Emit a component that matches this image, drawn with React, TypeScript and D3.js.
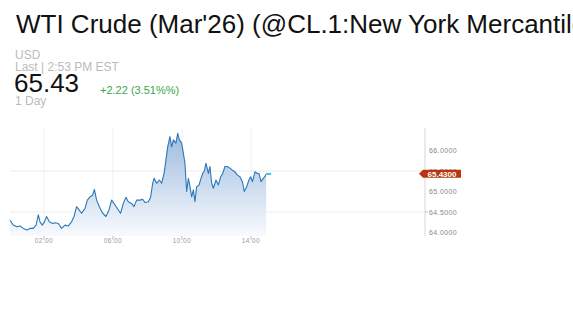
import React from "react";
import * as d3 from "d3";

const title = "WTI Crude (Mar'26) (@CL.1:New York Mercantile Exchange)";
const currency = "USD";
const lastLabel = "Last | 2:53 PM EST";
const lastPrice = "65.43";
const change = "+2.22 (3.51%%)";
const period = "1 Day";

// time in hours (EST, session day), price
const times = [0.03,0.22,0.42,0.61,0.80,1.00,1.19,1.38,1.54,1.67,1.77,1.90,2.02,2.15,2.31,2.50,2.64,2.83,3.02,3.22,3.41,3.60,3.74,3.89,4.03,4.18,4.38,4.51,4.67,4.82,4.92,5.05,5.21,5.40,5.59,5.77,5.92,6.12,6.31,6.44,6.60,6.75,6.89,7.08,7.22,7.37,7.57,7.72,7.86,8.05,8.18,8.30,8.38,8.53,8.69,8.82,8.96,9.07,9.17,9.30,9.40,9.50,9.65,9.75,9.85,9.98,10.08,10.17,10.27,10.37,10.46,10.56,10.66,10.75,10.85,10.99,11.10,11.20,11.31,11.39,11.53,11.62,11.72,11.82,11.97,12.11,12.24,12.36,12.49,12.63,12.78,12.92,13.07,13.21,13.36,13.50,13.61,13.75,13.88,13.98,14.08,14.23,14.37,14.46,14.58,14.71,14.80,14.88];
const prices = [64.30,64.18,64.14,64.16,64.10,64.06,64.10,64.10,64.18,64.43,64.26,64.18,64.26,64.39,64.26,64.22,64.24,64.22,64.10,64.18,64.16,64.26,64.39,64.63,64.55,64.47,64.59,64.79,64.87,64.91,65.05,64.79,64.63,64.47,64.39,64.55,64.79,64.67,64.55,64.47,64.71,64.86,64.75,64.71,64.63,64.79,64.79,64.81,64.73,64.75,64.86,65.20,65.32,65.20,65.28,65.20,65.44,65.77,66.09,66.34,66.09,66.26,66.18,66.42,66.26,66.18,65.93,65.69,65.00,65.32,65.12,64.87,65.04,64.75,65.12,65.16,65.32,65.44,65.52,65.69,65.44,65.61,65.20,65.08,65.28,65.16,65.36,65.44,65.61,65.61,65.57,65.52,65.48,65.40,65.36,65.24,65.00,65.12,65.28,65.36,65.24,65.48,65.44,65.44,65.24,65.32,65.36,65.43];

const xTickValues = [2, 6, 10, 14];
const xTickLabels = ["02:00", "06:00", "10:00", "14:00"];
const yTickValues = [64, 64.5, 65, 65.5, 66];
const yGridValues = [64.5, 65.5];
const currentValue = 65.43;

export default function App() {
  const W = 573, H = 323;
  const x = d3.scaleLinear().domain([0, 24]).range([9.5, 423.5]);
  const y = d3.scaleLinear().domain([64, 66]).range([232.5, 150.5]);
  const top = 128, bottom = 236, axisX = 425;
  const data = times.map((t, i) => ({ t, v: prices[i] }));
  const line = d3.line<any>().x(d => x(d.t)).y(d => y(d.v));
  const area = d3.area<any>().x(d => x(d.t)).y0(bottom).y1(d => y(d.v));
  const last = data[data.length - 1];
  const cy = y(currentValue);
  const font = "'Liberation Sans', Arial, sans-serif";

  return (
    <svg width={W} height={H} style={{ position: "absolute", left: 0, top: 0 }} fontFamily={font}>
      <defs>
        <linearGradient id="ag" gradientUnits="userSpaceOnUse" x1={0} y1={y(66.45)} x2={0} y2={bottom}>
          <stop offset="0%" stopColor="#9dbbdf" />
          <stop offset="100%" stopColor="#f8fafd" />
        </linearGradient>
      </defs>
      <text x={16} y={33} fontSize={26} fill="#111">{title}</text>
      <text x={15} y={59} fontSize={12} fill="#bbbbbb">{currency}</text>
      <text x={15} y={71} fontSize={12} fill="#bbbbbb">{lastLabel}</text>
      <text x={14} y={92} fontSize={26} fill="#111">{lastPrice}</text>
      <text x={100} y={94} fontSize={11} fill="#3aa845">{change}</text>
      <text x={15} y={105} fontSize={12} fill="#bbbbbb">{period}</text>

      {xTickValues.map(v => (
        <line key={"vg" + v} x1={x(v)} x2={x(v)} y1={top} y2={bottom} stroke="#f1f1f1" />
      ))}
      {yGridValues.map(v => (
        <line key={"hg" + v} x1={10} x2={axisX} y1={y(v)} y2={y(v)} stroke="#ececec" />
      ))}
      <path d={area(data) || ""} fill="url(#ag)" />
      <path d={line(data) || ""} fill="none" stroke="#2b78b8" strokeWidth={1.1} strokeLinejoin="round" />
      <line x1={x(last.t)} x2={x(last.t) + 5} y1={y(last.v)} y2={y(last.v)} stroke="#3ec0f2" strokeWidth={2} />

      <line x1={axisX} x2={axisX} y1={top} y2={bottom} stroke="#d6d6d6" />
      {yGridValues.map(v => (
        <line key={"yt" + v} x1={axisX} x2={axisX + 3} y1={y(v)} y2={y(v)} stroke="#bbb" />
      ))}
      {yTickValues.map(v => (
        <text key={"yl" + v} x={429} y={y(v) + 2.5} fontSize={7} fill="#888" letterSpacing={0.4}>
          {v.toFixed(4)}
        </text>
      ))}
      {xTickValues.map((v, i) => (
        <g key={"xt" + v}>
          <line x1={x(v)} x2={x(v)} y1={bottom} y2={bottom + 3} stroke="#bbb" />
          <text x={x(v)} y={243} fontSize={6.5} fill="#999" textAnchor="middle" letterSpacing={0.4}>
            {xTickLabels[i]}
          </text>
        </g>
      ))}

      <path d={`M${axisX - 6},${cy} L${axisX - 2},${cy - 4} L461,${cy - 4} L461,${cy + 4} L${axisX - 2},${cy + 4} Z`} fill="#b8350f" />
      <text x={442} y={cy + 2.8} fontSize={8} fontWeight="bold" fill="#fff" textAnchor="middle">
        {currentValue.toFixed(4)}
      </text>
    </svg>
  );
}
